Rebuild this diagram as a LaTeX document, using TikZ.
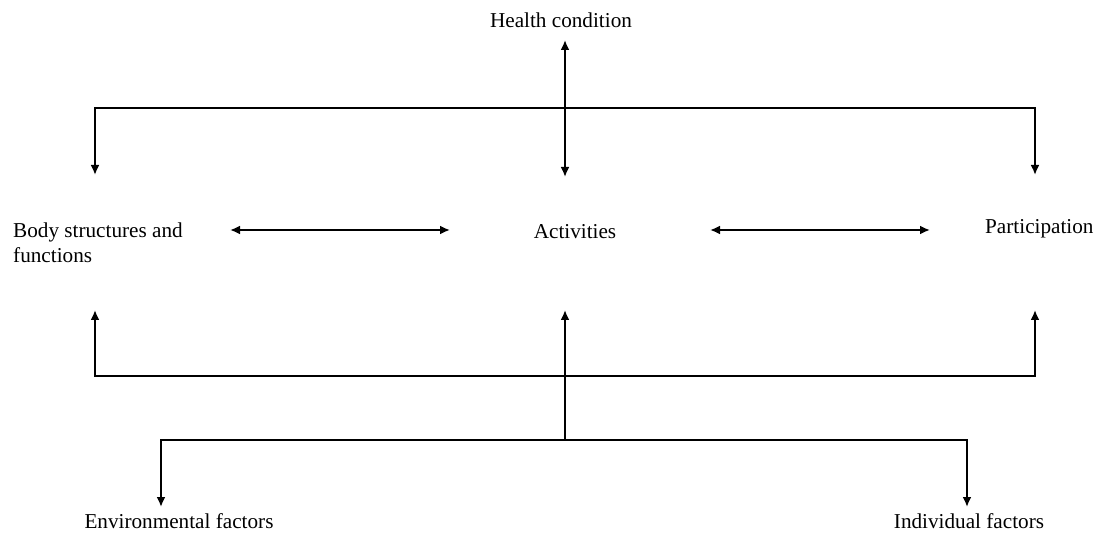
\documentclass[tikz,border=0pt]{standalone}
\usepackage{fontspec}
\setmainfont{Liberation Serif}
\usetikzlibrary{arrows.meta}
\begin{document}
\begin{tikzpicture}[x=1pt,y=-1pt,
  label/.style={inner sep=0pt,font=\fontsize{21.2}{25}\selectfont},
  link/.style={line width=2.8pt,line join=miter},
  >={Latex[length=10pt,width=9pt]}]
\useasboundingbox (0,0) rectangle (1098,534);

% text nodes
\node[label] (health) at (561,20) {Health condition};
\node[label,align=left,anchor=west] (body) at (13,243) {Body structures and\\functions};
\node[label] (act) at (575,232) {Activities};
\node[label,anchor=west] (part) at (985,229) {Participation};
\node[label] (env) at (179,521) {Environmental factors};
\node[label] (ind) at (969,521) {Individual factors};

% junction points and arrow ends
\coordinate (hcTip) at (565,40);
\coordinate (actTop) at (565,177);
\coordinate (actBot) at (565,310);
\coordinate (bodyTop) at (95,175);
\coordinate (bodyBot) at (95,310);
\coordinate (partTop) at (1035,175);
\coordinate (partBot) at (1035,310);
\coordinate (topL) at (95,108);
\coordinate (topR) at (1035,108);
\coordinate (midL) at (95,376);
\coordinate (midR) at (1035,376);
\coordinate (lowC) at (565,440);
\coordinate (lowL) at (161,440);
\coordinate (lowR) at (967,440);
\coordinate (envTip) at (161,507);
\coordinate (indTip) at (967,507);
\coordinate (bodyE) at (230,230);
\coordinate (actW) at (450,230);
\coordinate (actE) at (710,230);
\coordinate (partW) at (930,230);

% health condition <-> activities
\draw[link,<->] (hcTip) -- (actTop);
% top bracket to body and participation
\draw[link,->] (topR) -- (topL) -- (bodyTop);
\draw[link,->] (topL) -- (topR) -- (partTop);

% horizontal links between the middle row
\draw[link,<->] (bodyE) -- (actW);
\draw[link,<->] (actE) -- (partW);

% lower bracket from the contextual factors
\draw[link,->] (midR) -- (midL) -- (bodyBot);
\draw[link,->] (midL) -- (midR) -- (partBot);
\draw[link,->] (lowC) -- (actBot);
\draw[link,->] (lowR) -- (lowL) -- (envTip);
\draw[link,->] (lowL) -- (lowR) -- (indTip);
\end{tikzpicture}
\end{document}
